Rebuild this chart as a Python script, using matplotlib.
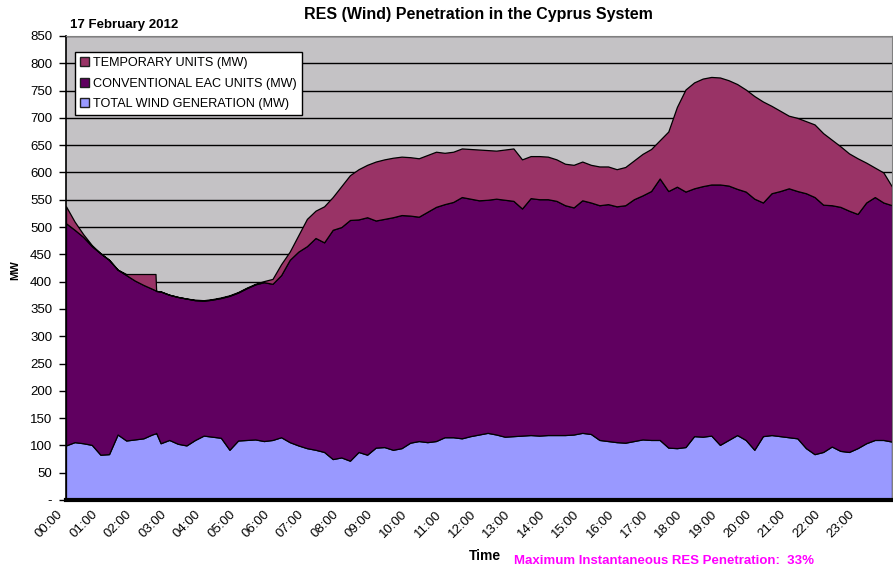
import matplotlib
matplotlib.use("Agg")
import matplotlib.pyplot as plt
import matplotlib.transforms as mtransforms
from matplotlib.patches import Patch

plt.rcParams['font.family'] = ['Liberation Sans', 'DejaVu Sans']

# time of day in hours
hours = [0.00, 0.25, 0.50, 0.75, 1.00, 1.25, 1.50, 1.75, 2.00, 2.25, 2.50, 2.60, 2.62, 2.75,
         3.00, 3.25, 3.50, 3.75, 4.00, 4.25, 4.50, 4.75, 5.00, 5.25, 5.50, 5.75,
         6.00, 6.25, 6.50, 6.75, 7.00, 7.25, 7.50, 7.75, 8.00, 8.25, 8.50, 8.75,
         9.00, 9.25, 9.50, 9.75, 10.00, 10.25, 10.50, 10.75, 11.00, 11.25, 11.50, 11.75,
         12.00, 12.25, 12.50, 12.75, 13.00, 13.25, 13.50, 13.75, 14.00, 14.25, 14.50, 14.75,
         15.00, 15.25, 15.50, 15.75, 16.00, 16.25, 16.50, 16.75, 17.00, 17.25, 17.50, 17.75,
         18.00, 18.25, 18.50, 18.75, 19.00, 19.25, 19.50, 19.75, 20.00, 20.25, 20.50, 20.75,
         21.00, 21.25, 21.50, 21.75, 22.00, 22.25, 22.50, 22.75, 23.00, 23.25, 23.50, 23.75, 24.00]

wind_mw = [100, 106, 104, 101, 83, 84, 120, 109, 111, 113, 120, 122, 123, 104,
           110, 103, 100, 110, 118, 116, 114, 92, 109, 110, 111, 108,
           110, 115, 106, 100, 95, 92, 88, 75, 78, 72, 88, 83,
           96, 97, 92, 95, 105, 108, 106, 108, 115, 115, 113, 117,
           120, 123, 120, 116, 117, 118, 119, 118, 119, 119, 119, 120,
           123, 121, 110, 108, 106, 105, 108, 111, 110, 110, 96, 95,
           97, 117, 116, 118, 101, 110, 119, 110, 92, 117, 119, 117,
           115, 113, 95, 84, 88, 98, 90, 88, 95, 104, 110, 110, 107]

conventional_mw = [407, 389, 378, 364, 369, 356, 302, 303, 291, 281, 267, 262, 260, 278,
                   266, 269, 269, 256, 247, 251, 256, 282, 271, 278, 284, 291,
                   286, 297, 334, 355, 370, 388, 384, 420, 422, 441, 426, 435,
                   416, 418, 426, 427, 416, 411, 422, 429, 427, 431, 442, 435,
                   429, 427, 432, 434, 431, 416, 434, 433, 432, 429, 421, 416,
                   426, 424, 430, 434, 432, 435, 443, 447, 456, 479, 470, 479,
                   468, 454, 459, 460, 477, 466, 451, 455, 460, 428, 443, 449,
                   456, 453, 467, 471, 453, 442, 447, 442, 429, 441, 445, 435, 433]

temporary_mw = [31, 15, 5, 2, 0, 0, 0, 2, 12, 20, 27, 30, 0, 0,
                0, 0, 0, 1, 1, 1, 1, 1, 1, 1, 1, 2,
                9, 20, 15, 30, 50, 50, 66, 60, 75, 82, 92, 96,
                108, 109, 109, 107, 107, 107, 104, 101, 94, 92, 89, 91,
                93, 91, 88, 92, 96, 90, 77, 79, 78, 76, 76, 78,
                71, 69, 71, 69, 68, 70, 71, 76, 77, 70, 109, 146,
                187, 194, 197, 197, 196, 193, 192, 187, 188, 185, 160, 147,
                133, 134, 132, 133, 131, 120, 111, 105, 102, 73, 54, 55, 34]

series_labels = ['TOTAL WIND GENERATION (MW)', 'CONVENTIONAL EAC UNITS (MW)', 'TEMPORARY UNITS (MW)']
series_colors = ['#9999FF', '#600060', '#993366']

tick_hours = list(range(24))
tick_labels = ['%02d:00' % h for h in tick_hours]
y_ticks = list(range(0, 851, 50))
y_labels = ['-'] + [str(v) for v in y_ticks[1:]]

W, H = 893, 574
fig = plt.figure(figsize=(W / 100, H / 100), dpi=100)
fig.patch.set_facecolor('white')
ax = fig.add_axes([66 / W, 1 - 500 / H, (892 - 66) / W, (500 - 36) / H])
ax.set_facecolor('#C4C2C5')

polys = ax.stackplot(hours, wind_mw, conventional_mw, temporary_mw,
                     colors=series_colors, edgecolor='black', linewidth=0.9, zorder=2)

ax.set_xlim(0, 24)
ax.set_ylim(0, 850)
ax.set_yticks(y_ticks)
ax.set_yticklabels(y_labels, fontsize=9.5)
ax.set_xticks(tick_hours)
ax.set_xticklabels(tick_labels, fontsize=9.5, rotation=45, ha='right', va='top',
                   rotation_mode='anchor')
ax.tick_params(axis='x', length=0, pad=6)
ax.tick_params(axis='y', length=5, width=1, color='black', direction='out', pad=5)
shift = mtransforms.ScaledTranslation(-9 / 100, 0, fig.dpi_scale_trans)
for lbl in ax.get_xticklabels():
    lbl.set_transform(lbl.get_transform() + shift)
ax.yaxis.grid(True, color='black', linewidth=1)
ax.set_axisbelow(True)

ax.spines['top'].set_color('#808080')
ax.spines['right'].set_color('#808080')
ax.spines['left'].set_color('black')
ax.spines['left'].set_linewidth(1.2)
ax.spines['bottom'].set_color('black')
ax.spines['bottom'].set_linewidth(3)
ax.spines['bottom'].set_zorder(5)

fig.text(15 / W, 1 - 270 / H, 'MW', rotation=90, ha='center', va='center',
         fontsize=8, fontweight='bold')
fig.text(478 / W, 1 - 14 / H, 'RES (Wind) Penetration in the Cyprus System',
         ha='center', va='center', fontsize=11.5, fontweight='bold')
fig.text(70 / W, 1 - 25 / H, '17 February 2012', ha='left', va='center',
         fontsize=9.5, fontweight='bold')
fig.text(485 / W, 1 - 556 / H, 'Time', ha='center', va='center',
         fontsize=10, fontweight='bold')
fig.text(514 / W, 1 - 561 / H, 'Maximum Instantaneous RES Penetration:  33%',
         ha='left', va='center', fontsize=9.5, fontweight='bold', color='#FF00FF')

handles = [Patch(facecolor=series_colors[2], edgecolor='#202020', label=series_labels[2]),
           Patch(facecolor=series_colors[1], edgecolor='#202020', label=series_labels[1]),
           Patch(facecolor=series_colors[0], edgecolor='#202020', label=series_labels[0])]
leg = ax.legend(handles=handles, loc='upper left', bbox_to_anchor=(75 / W, 1 - 52 / H),
                bbox_transform=fig.transFigure, borderaxespad=0, fontsize=9.1,
                frameon=True, fancybox=False, framealpha=1, edgecolor='black',
                handlelength=0.7, handleheight=0.7, handletextpad=0.3,
                labelspacing=0.68, borderpad=0.4)
leg.get_frame().set_linewidth(1)
leg.set_zorder(10)

fig.savefig('out.png', dpi=100)
